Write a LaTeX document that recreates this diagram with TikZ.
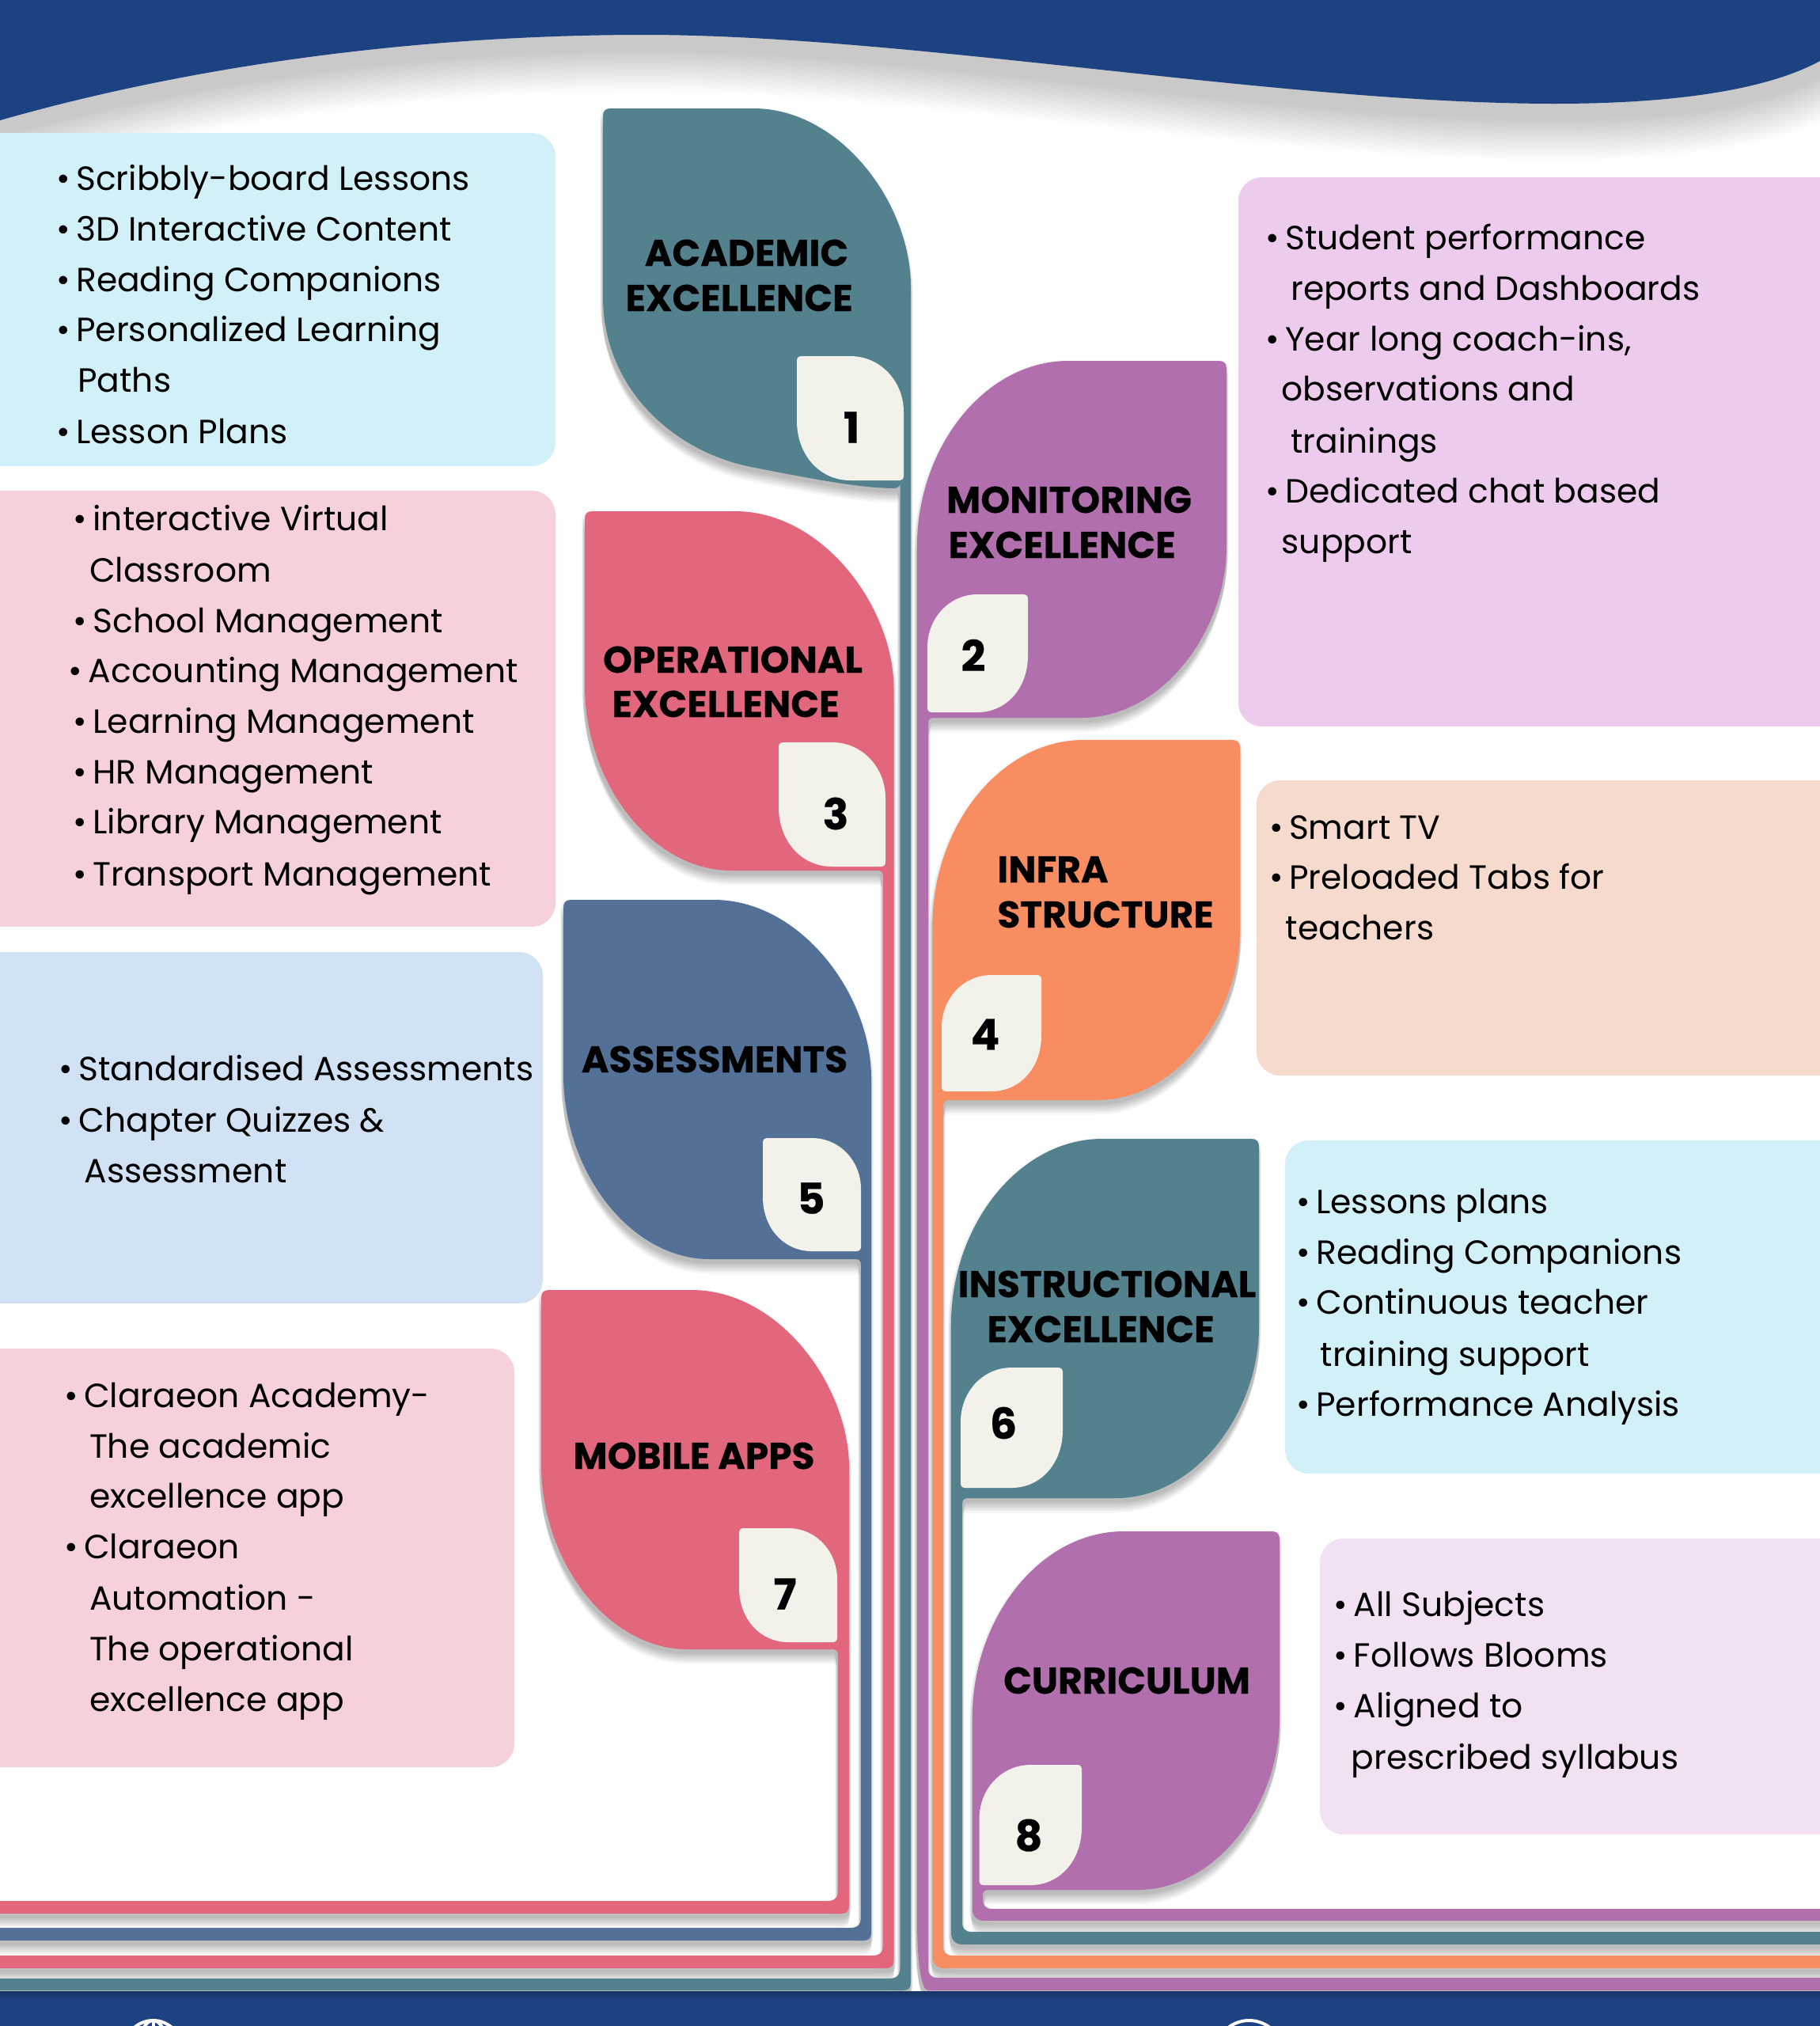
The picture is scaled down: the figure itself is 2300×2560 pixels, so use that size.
\documentclass[tikz,border=0pt]{standalone}
\usepackage{fontspec}
\setmainfont{Poppins}[BoldFeatures={FakeBold=0.35}]
\definecolor{navy}{HTML}{1D4282}
\definecolor{navyd}{HTML}{183468}
\definecolor{teal}{HTML}{53818E}
\definecolor{purp}{HTML}{B170AD}
\definecolor{pinkk}{HTML}{E2677D}
\definecolor{bluee}{HTML}{537197}
\definecolor{orng}{HTML}{F78D60}
\definecolor{badge}{HTML}{F2F2EB}
\definecolor{pcyan}{HTML}{D2F0F8}
\definecolor{ppink}{HTML}{F6D1DA}
\definecolor{pblue}{HTML}{D0E2F4}
\definecolor{porch}{HTML}{EDCBEC}
\definecolor{ppeach}{HTML}{F6DACE}
\definecolor{plav}{HTML}{F2E0F3}
\tikzset{
  panel/.style={rounded corners=15pt},
  bodytext/.style={anchor=base west,inner sep=0pt,font=\fontsize{21.2}{23}\selectfont,text=black},
  titletext/.style={anchor=base,inner sep=0pt,font=\fontsize{23.5}{24}\selectfont\bfseries,text=black},
  numtext/.style={anchor=center,inner sep=0pt,font=\fontsize{27}{27}\selectfont\bfseries,text=black},
  iconline/.style={white,line width=2pt},
}
\newcounter{tln}
\newcommand\tl[3]{\stepcounter{tln}\node[bodytext] (line\thetln) at ({#1*1.6324},{(#2+9.5)*1.6324}) {#3};}
\newcommand\bu{•\hspace{3.7pt}}
\newcommand\LeafL[7]{({#1+10},#2) -- ({#1+190},#2) .. controls ({#1+300},#2) and (#3,{#2+120}) .. (#3,{#2+225}) -- (#3,{#7-10}) .. controls (#3,{#7-3}) and ({#3-3},#7) .. ({#3-10},#7) -- (-30,#7) -- (-30,#6) -- ({#5-14},#6) .. controls ({#5-4},#6) and (#5,{#6-4}) .. (#5,{#6-14}) -- (#5,{#4+8}) .. controls (#5,{#4+2}) and ({#5-2},#4) .. ({#5-8},#4) -- ({#1+185},#4) .. controls ({#1+85},#4) and (#1,{#4-110}) .. (#1,{#4-234}) -- (#1,{#2+10}) .. controls (#1,{#2+3}) and ({#1+3},#2) .. ({#1+10},#2) -- cycle}
\newcommand\LeafOne{(772,137) -- (952,137) .. controls (1062,137) and (1151,257) .. (1151,362) -- (1151,2505) .. controls (1151,2512) and (1148,2515) .. (1141,2515) -- (-30,2515) -- (-30,2500) -- (1123,2500) .. controls (1133,2500) and (1137.5,2496) .. (1137.5,2486) -- (1137.5,612) .. controls (1136,616) and (1133,617) .. (1128,617) .. controls (1090,616) and (1050,610) .. (949,590) .. controls (850,570) and (762,490) .. (762,375) -- (762,147) .. controls (762,140) and (765,137) .. (772,137) -- cycle}
\newcommand\LeafR[9]{({#3-10},#2) -- ({#1+191},#2) .. controls ({#1+85},#2) and (#1,{#2+110}) .. (#1,{#2+234}) -- (#1,{#7-#9}) .. controls (#1,{#7-#9*.35}) and ({#1+#8*.4},#7) .. ({#1+#8},#7) -- (2330,#7) -- (2330,#6) -- ({#5+12},#6) .. controls ({#5+4},#6) and (#5,{#6-4}) .. (#5,{#6-12}) -- (#5,{#4+8}) .. controls (#5,{#4+2}) and ({#5+2},#4) .. ({#5+8},#4) -- ({#1+208},#4) .. controls ({#1+310},#4) and (#3,{#4-110}) .. (#3,{#4-217}) -- (#3,{#2+10}) .. controls (#3,{#2+3}) and ({#3-3},#2) .. ({#3-10},#2) -- cycle}
\newcommand\BadgeL[4]{({#1+6},#2) -- ({(#1+#3)/2},#2) .. controls ({(#1+#3)/2+.28*(#3-#1)},#2) and (#3,{#2+.2*(#4-#2)}) .. (#3,{#2+.45*(#4-#2)}) -- (#3,{#4-6}) .. controls (#3,{#4-2}) and ({#3-2},#4) .. ({#3-6},#4) -- ({(#1+#3)/2},#4) .. controls ({(#1+#3)/2-.28*(#3-#1)},#4) and (#1,{#4-.2*(#4-#2)}) .. (#1,{#4-.48*(#4-#2)}) -- (#1,{#2+6}) .. controls (#1,{#2+2}) and ({#1+2},#2) .. ({#1+6},#2) -- cycle}
\newcommand\BadgeR[4]{({#3-6},#2) -- ({(#1+#3)/2},#2) .. controls ({(#1+#3)/2-.28*(#3-#1)},#2) and (#1,{#2+.2*(#4-#2)}) .. (#1,{#2+.45*(#4-#2)}) -- (#1,{#4-6}) .. controls (#1,{#4-2}) and ({#1+2},#4) .. ({#1+6},#4) -- ({(#1+#3)/2},#4) .. controls ({(#1+#3)/2+.28*(#3-#1)},#4) and (#3,{#4-.2*(#4-#2)}) .. (#3,{#4-.48*(#4-#2)}) -- (#3,{#2+6}) .. controls (#3,{#2+2}) and ({#3-2},#2) .. ({#3-6},#2) -- cycle}
\newcommand\softshadow[1]{\foreach \s in {2,4,...,18}{\begin{scope}[transparency group,opacity=.03]\path[fill=black,draw=black,line width=(18-\s)*.2pt,line join=round,shift={(-.5,\s)}] #1;\end{scope}}}
\newcommand\Wave{(-30,-30) -- (-30,170) -- (0,152) .. controls (270,75) and (560,44) .. (814,44) .. controls (1150,44) and (1620,131) .. (1965,131) .. controls (2110,131) and (2230,115) .. (2300,77) -- (2330,60) -- (2330,-30) -- cycle}
\begin{document}
\begin{tikzpicture}[x=.5pt,y=-.5pt]
\useasboundingbox (0,0) rectangle (2300,2560);
\clip (0,0) rectangle (2300,2560);
\fill[white] (0,0) rectangle (2300,2560);
% wave
\foreach \w in {0,4,...,104}{\begin{scope}[transparency group,opacity=.0095]\path[fill=black,draw=black,line width=\w*.5pt,line join=round,shift={(0,20)}] \Wave;\end{scope}}
\fill[navy] \Wave;
% panels
\fill[pcyan,panel] (-40,168) rectangle (702,589);
\fill[ppink,panel] (-40,620) rectangle (702,1171);
\fill[pblue,panel] (-40,1203) rectangle (686,1647);
\fill[ppink,panel] (-40,1704) rectangle (650,2233);
\fill[porch,panel] (1565,224) rectangle (2340,918);
\fill[ppeach,panel] (1588,986) rectangle (2340,1359);
\fill[pcyan,panel] (1624,1441) rectangle (2340,1862);
\fill[plav,panel] (1668,1944) rectangle (2340,2318);
% left leaves
\softshadow{\LeafL{684}{1630}{1073}{2084}{1059}{2402}{2418}}
\fill[pinkk] \LeafL{684}{1630}{1073}{2084}{1059}{2402}{2418};
\softshadow{\LeafL{712}{1137}{1101}{1591}{1088}{2436}{2452}}
\fill[bluee] \LeafL{712}{1137}{1101}{1591}{1088}{2436}{2452};
\softshadow{\LeafL{739}{646}{1129.5}{1100}{1116}{2471}{2487}}
\fill[pinkk] \LeafL{739}{646}{1129.5}{1100}{1116}{2471}{2487};
\softshadow{\LeafOne}
\fill[teal] \LeafOne;
% right leaves
\softshadow{\LeafR{1229}{1935}{1617}{2388}{1242}{2412}{2427}{15}{15}}
\fill[purp] \LeafR{1229}{1935}{1617}{2388}{1242}{2412}{2427}{15}{15};
\softshadow{\LeafR{1202}{1439}{1591}{1893}{1216}{2441}{2457}{15}{15}}
\fill[teal] \LeafR{1202}{1439}{1591}{1893}{1216}{2441}{2457}{15}{15};
\softshadow{\LeafR{1178.5}{935}{1567}{1390}{1192}{2471}{2487}{15}{15}}
\fill[orng] \LeafR{1178.5}{935}{1567}{1390}{1192}{2471}{2487}{15}{15};
\softshadow{\LeafR{1159}{456}{1550}{907}{1173}{2499}{2515}{14}{90}}
\fill[purp] \LeafR{1159}{456}{1550}{907}{1173}{2499}{2515}{14}{90};
% badges
\fill[badge] \BadgeL{1007}{450}{1142}{607};
\fill[badge] \BadgeR{1172}{751}{1299}{900};
\fill[badge] \BadgeL{984}{938}{1119}{1095};
\fill[badge] \BadgeR{1190}{1232}{1316}{1379};
\fill[badge] \BadgeL{964}{1438}{1088}{1581};
\fill[badge] \BadgeR{1214}{1728}{1343}{1880};
\fill[badge] \BadgeL{934}{1931}{1058}{2075};
\fill[badge] \BadgeR{1237.5}{2230}{1367}{2382};
% numbers
\node[numtext] (n1) at (1076,540) {1};
\node[numtext] (n2) at (1230,828) {2};
\node[numtext] (n3) at (1056,1028) {3};
\node[numtext] (n4) at (1245,1307) {4};
\node[numtext] (n5) at (1025,1514) {5};
\node[numtext] (n6) at (1268,1798) {6};
\node[numtext] (n7) at (992,2014) {7};
\node[numtext] (n8) at (1300,2319) {8};
% titles
\node[titletext] (t1a) at (943.5,336) {ACADEMIC};
\node[titletext] (t1b) at (934,393) {EXCELLENCE};
\node[titletext] (t2a) at (1351,648) {MONITORING};
\node[titletext] (t2b) at (1342,705) {EXCELLENCE};
\node[titletext] (t3a) at (926,850) {OPERATIONAL};
\node[titletext] (t3b) at (917,906) {EXCELLENCE};
\node[titletext,anchor=base west] (t4a) at (1260,1115) {INFRA};
\node[titletext,anchor=base west] (t4b) at (1260,1172) {STRUCTURE};
\node[titletext] (t5) at (903,1355) {ASSESSMENTS};
\node[titletext] (t7) at (877,1856) {MOBILE APPS};
\node[titletext] (t6a) at (1399,1639) {INSTRUCTIONAL};
\node[titletext] (t6b) at (1391,1696) {EXCELLENCE};
\node[titletext] (t8) at (1424,2140) {CURRICULUM};
% panel text
\tl{43.5}{138}{\bu Scribbly-board Lessons}
\tl{43.5}{177}{\bu 3D Interactive Content}
\tl{43.5}{216}{\bu Reading Companions}
\tl{43.5}{255}{\bu Personalized Learning}
\tl{60}{294}{Paths}
\tl{43.5}{334}{\bu Lesson Plans}
\tl{56.5}{401}{\bu interactive Virtual}
\tl{69}{441}{Classroom}
\tl{56.5}{480}{\bu School Management}
\tl{53}{519}{\bu Accounting Management}
\tl{56.5}{558}{\bu Learning Management}
\tl{56.5}{597}{\bu HR Management}
\tl{56.5}{636}{\bu Library Management}
\tl{56.5}{676}{\bu Transport Management}
\tl{45.5}{827}{\bu Standardised Assessments}
\tl{45.5}{867}{\bu Chapter Quizzes \&}
\tl{65}{906}{Assessment}
\tl{49.5}{1080}{\bu Claraeon Academy-}
\tl{69}{1119}{The academic}
\tl{69}{1158}{excellence app}
\tl{49.5}{1197}{\bu Claraeon}
\tl{69}{1237}{Automation -}
\tl{69}{1276}{The operational}
\tl{69}{1315}{excellence app}
\tl{979.5}{184}{\bu Student performance}
\tl{999}{223}{reports and Dashboards}
\tl{979.5}{262}{\bu Year long coach-ins,}
\tl{992}{301}{observations and}
\tl{999}{341}{trainings}
\tl{979.5}{380}{\bu Dedicated chat based}
\tl{992}{419}{support}
\tl{982.5}{640}{\bu Smart TV}
\tl{982.5}{679}{\bu Preloaded Tabs for}
\tl{995}{718}{teachers}
\tl{1003.5}{930}{\bu Lessons plans}
\tl{1003.5}{969}{\bu Reading Companions}
\tl{1003.5}{1008}{\bu Continuous teacher}
\tl{1022}{1048}{training support}
\tl{1003.5}{1087}{\bu Performance Analysis}
\tl{1032.5}{1242}{\bu All Subjects}
\tl{1032.5}{1281}{\bu Follows Blooms}
\tl{1032.5}{1320}{\bu Aligned to}
\tl{1046}{1360}{prescribed syllabus}
% footer
\fill[navy] (0,2516) rectangle (2300,2560);
\shade[top color=navyd,bottom color=navy] (0,2516) rectangle (2300,2528);
\draw[iconline] (193.5,2589) circle (36);
\draw[iconline] (193.5,2589) ellipse (18 and 36);
\draw[iconline] (193.5,2553) -- (193.5,2625);
\draw[iconline] (1578.5,2596) circle (43);
\end{tikzpicture}
\end{document}
